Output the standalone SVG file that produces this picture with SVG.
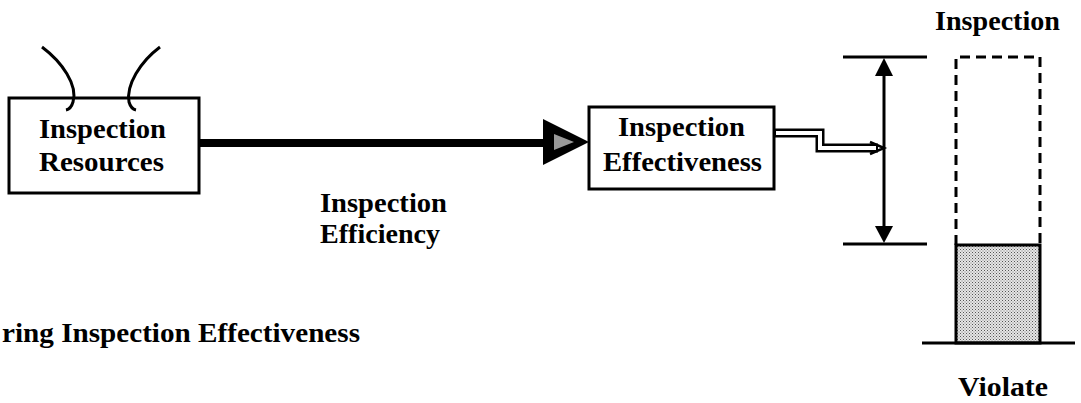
<svg xmlns="http://www.w3.org/2000/svg" width="1081" height="403" viewBox="0 0 1081 403">
<style>
.t{font-family:"Liberation Serif","Times New Roman",serif;font-weight:bold;font-size:27px;fill:#000}
.box{fill:#fff;stroke:#000;stroke-width:3}
.ln{stroke:#000;stroke-width:3;fill:none}
</style>
<defs>
<pattern id="dots" width="3" height="3" patternUnits="userSpaceOnUse">
<rect width="3" height="3" fill="#e6e6e6"/>
<rect width="1" height="1" fill="#555"/>
<rect x="1.5" y="1.5" width="1" height="1" fill="#777"/>
</pattern>
</defs>
<rect width="1081" height="403" fill="#fff"/>
<g id="resources">
<rect class="box" x="9" y="98" width="190" height="95"/>
<path class="ln" d="M42,47 C62,62 78,85 73,102 Q71,109 66,110"/>
<path class="ln" d="M160,47 C140,62 126,85 129,102 Q131,109 136,110"/>
<text class="t" x="39" y="138" textLength="127" lengthAdjust="spacingAndGlyphs">Inspection</text>
<text class="t" x="39" y="171" textLength="125" lengthAdjust="spacingAndGlyphs">Resources</text>
</g>
<g id="effectiveness">
<rect class="box" x="589" y="107" width="185" height="82"/>
<text class="t" x="618" y="136" textLength="127" lengthAdjust="spacingAndGlyphs">Inspection</text>
<text class="t" x="603" y="171" textLength="159" lengthAdjust="spacingAndGlyphs">Effectiveness</text>
</g>
<g id="connectors">
<line x1="199" y1="143" x2="546" y2="143" stroke="#000" stroke-width="8"/>
<polygon points="543,119 589,142 543,165" fill="#000"/>
<polygon points="554,134 574,142 554,150" fill="#999"/>
<path d="M775,133 H820 V148 H878" fill="none" stroke="#000" stroke-width="9"/>
<path d="M776,133 H820 V148 H876" fill="none" stroke="#fff" stroke-width="4"/>
<path d="M870,142 L884,148 L870,154" fill="none" stroke="#000" stroke-width="2.5"/>
</g>
<g id="range">
<line class="ln" x1="843" y1="57" x2="927" y2="57"/>
<line class="ln" x1="843" y1="244" x2="927" y2="244"/>
<line class="ln" x1="884" y1="70" x2="884" y2="231"/>
<polygon points="884,58 875,76 893,76" fill="#000"/>
<polygon points="884,243 875,226 893,226" fill="#000"/>
</g>
<g id="gauge">
<path d="M956,245 V57 H1040 V245" fill="none" stroke="#000" stroke-width="3" stroke-dasharray="10,6"/>
<rect x="956" y="245" width="84" height="98" fill="url(#dots)" stroke="#000" stroke-width="3"/>
<line class="ln" x1="922" y1="343" x2="1075" y2="343"/>
<text class="t" x="935" y="30" textLength="125" lengthAdjust="spacingAndGlyphs">Inspection</text>
<text class="t" x="958" y="396" textLength="90" lengthAdjust="spacingAndGlyphs">Violate</text>
</g>
<g id="efficiency-label">
<text class="t" x="320" y="212" textLength="127" lengthAdjust="spacingAndGlyphs">Inspection</text>
<text class="t" x="320" y="243" textLength="120" lengthAdjust="spacingAndGlyphs">Efficiency</text>
</g>
<g id="caption">
<text class="t" x="2" y="342" textLength="358" lengthAdjust="spacingAndGlyphs">ring Inspection Effectiveness</text>
</g>
</svg>
